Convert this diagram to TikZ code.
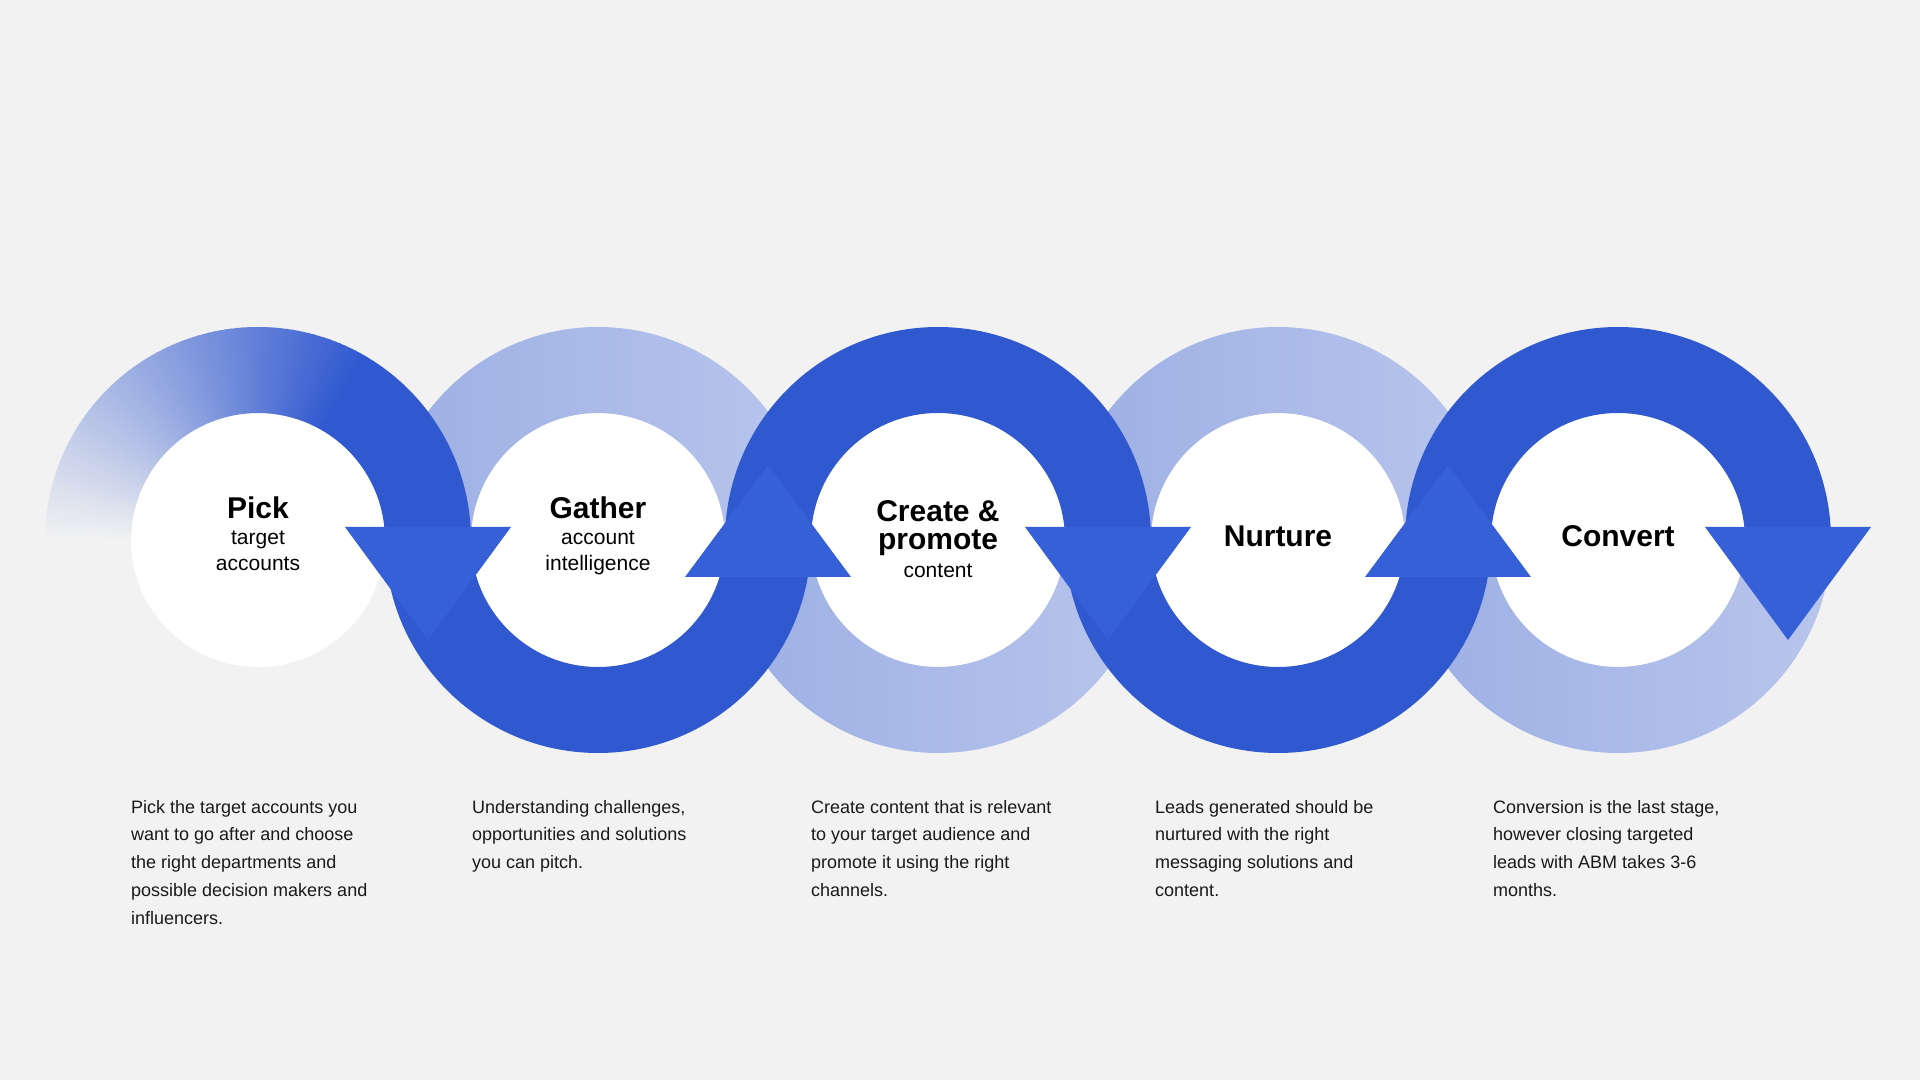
\documentclass[tikz,border=0pt]{standalone}
\usepackage{fontspec}
\setmainfont{Liberation Sans}
\definecolor{bgc}{HTML}{F2F2F2}
\definecolor{dk}{HTML}{3159CF}
\definecolor{arr}{HTML}{3560D8}
\definecolor{lightL}{HTML}{9DAFE4}
\definecolor{lightR}{HTML}{B8C5EC}
\definecolor{txt}{HTML}{1A1A1A}
\newcommand\RingPath[3]{(#1,540) ++(#2:213) arc[start angle=#2,end angle=#3,radius=213] -- ++(#3:-86) arc[start angle=#3,end angle=#2,radius=127] -- cycle}
\tikzset{
  disc/.style={circle,fill=white,minimum size=254pt,inner sep=0pt},
  title/.style={font=\fontsize{30}{28}\selectfont\bfseries,text=black,align=center,inner sep=0pt,anchor=base},
  sub/.style={font=\fontsize{21}{26}\selectfont,text=black,align=center,inner sep=0pt,anchor=base},
  desc/.style={font=\fontsize{18}{27.9}\selectfont,text=txt,align=left,inner sep=0pt,anchor=base west},
  lightring/.style={left color=lightL,right color=lightR},
}
\begin{document}
\begin{tikzpicture}[x=1pt,y=1pt]
\fill[bgc] (0,0) rectangle (1920,1080);
\useasboundingbox (0,0) rectangle (1920,1080);
% white discs
\node[disc] (pick) at (258,540) {};
\node[disc] (gather) at (598,540) {};
\node[disc] (create) at (938,540) {};
\node[disc] (nurture) at (1278,540) {};
\node[disc] (convert) at (1618,540) {};
% light half rings
\shade[lightring] \RingPath{598}{0}{180};
\shade[lightring] \RingPath{938}{180}{360};
\shade[lightring] \RingPath{1278}{0}{180};
\shade[lightring] \RingPath{1618}{180}{360};
% faded start of the first ring
\foreach \i in {0,...,79}{
  \pgfmathsetmacro\aa{180-1.5*\i}
  \pgfmathsetmacro\bb{\aa-1.9}
  \pgfmathsetmacro\pp{(1.5*\i+0.75)/120*100}
  \colorlet{fadec}{dk!\pp!bgc}
  \fill[fadec] \RingPath{258}{\aa}{\bb};
}
% dark path
\fill[dk] \RingPath{258}{60}{0};
\fill[dk] \RingPath{598}{180}{360};
\fill[dk] \RingPath{938}{0}{180};
\fill[dk] \RingPath{1278}{180}{360};
\fill[dk] \RingPath{1618}{0}{180};
% arrow heads
\fill[arr] (345,553) -- (511,553) -- (428,440) -- cycle;
\fill[arr] (685,503) -- (851,503) -- (768,615) -- cycle;
\fill[arr] (1025,553) -- (1191,553) -- (1108,440) -- cycle;
\fill[arr] (1365,503) -- (1531,503) -- (1448,615) -- cycle;
\fill[arr] (1705,553) -- (1871,553) -- (1788,440) -- cycle;
% titles
\node[title] (t1) at (258,561) {Pick};
\node[sub] (s1a) at (258,535) {target};
\node[sub] (s1b) at (258,509) {accounts};
\node[title] (t2) at (598,561) {Gather};
\node[sub] (s2a) at (598,535) {account};
\node[sub] (s2b) at (598,509) {intelligence};
\node[title] (t3a) at (938,558) {Create \&};
\node[title] (t3b) at (938,530) {promote};
\node[sub] (s3) at (938,502) {content};
\node[title] (t4) at (1278,533) {Nurture};
\node[title] (t5) at (1618,533) {Convert};
% descriptions (base anchor = last line's baseline)
\node[desc] (d1) at (131,155.4) {Pick the target accounts you\\want to go after and choose\\the right departments and\\possible decision makers and\\influencers.};
\node[desc] (d2) at (472,211.2) {Understanding challenges,\\opportunities and solutions\\you can pitch.};
\node[desc] (d3) at (811,183.3) {Create content that is relevant\\to your target audience and\\promote it using the right\\channels.};
\node[desc] (d4) at (1155,183.3) {Leads generated should be\\nurtured with the right\\messaging solutions and\\content.};
\node[desc] (d5) at (1493,183.3) {Conversion is the last stage,\\however closing targeted\\leads with ABM takes 3-6\\months.};
\end{tikzpicture}
\end{document}
